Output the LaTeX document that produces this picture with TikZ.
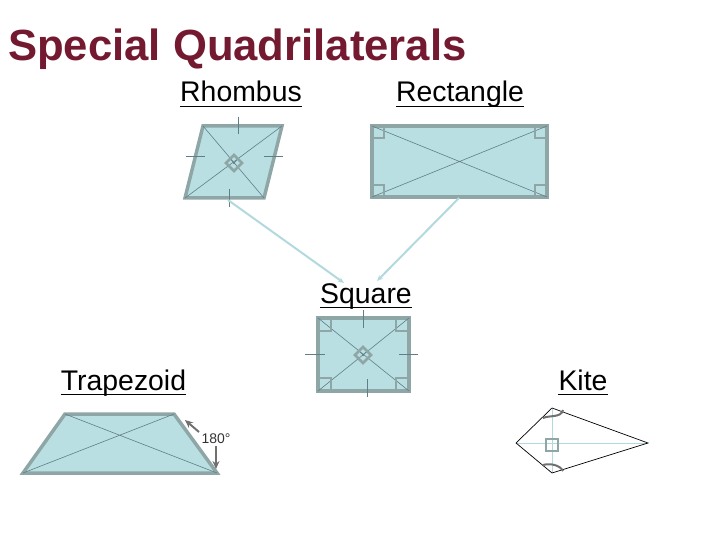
\documentclass[tikz,border=0pt]{standalone}
\usepackage{fontspec}
\setmainfont{Liberation Sans}
\usetikzlibrary{arrows.meta,calc}
\definecolor{titlec}{HTML}{741A30}
\definecolor{qfill}{HTML}{B9DFE3}
\definecolor{qedge}{HTML}{8FA6A6}
\definecolor{diagc}{HTML}{5F7F85}
\definecolor{connc}{HTML}{B2D9DE}
\definecolor{arrc}{HTML}{707070}
\tikzset{
  quad/.style={fill=qfill,draw=qedge,line width=3.5bp,line join=miter},
  diagl/.style={draw=diagc,line width=0.6bp},
  tickl/.style={draw=diagc,line width=0.8bp},
  rmark/.style={draw=qedge,line width=2.8bp},
  lbl/.style={inner sep=0pt,anchor=base,font=\fontsize{28.5}{30}\selectfont},
  conn/.style={draw=connc,line width=2bp,-{Stealth[length=6bp,width=5bp]}},
  angarr/.style={draw=arrc,line width=2bp,-{Stealth[length=8bp,width=7bp]}},
  kitel/.style={draw=black,line width=0.7bp},
  kdiag/.style={draw=connc,line width=1bp},
}
\begin{document}
\begin{tikzpicture}[x=1bp,y=-1bp]
\useasboundingbox (0,0) rectangle (720,540);
% title
\node[inner sep=0pt,anchor=base west,text=titlec,font=\fontsize{43.8}{46}\selectfont\bfseries] (title) at (8,61) {Special Quadrilaterals};
% labels
\node[lbl] (lrh) at (241,102) {Rhombus};
\node[lbl] (lre) at (460,102) {Rectangle};
\node[lbl] (lsq) at (366,303) {Square};
\node[lbl] (ltr) at (123.5,390) {Trapezoid};
\node[lbl] (lki) at (583,390) {Kite};
\foreach \n in {lrh,lre,lsq,ltr,lki}
  \draw[line width=1.8bp] ([yshift=-4.5bp]\n.base west) -- ([yshift=-4.5bp]\n.base east);
% rhombus
\coordinate (rh1) at (203,126);
\coordinate (rh2) at (282,126);
\coordinate (rh3) at (264,198);
\coordinate (rh4) at (185,198);
\draw[quad] (rh1)--(rh2)--(rh3)--(rh4)--cycle;
\draw[diagl] (rh1)--(rh3) (rh2)--(rh4);
\draw[tickl] (238,117)--(238,134) (229,189)--(229,207) (186,156)--(205,156) (264,156)--(283,156);
\coordinate (rhc) at (234,163);
\draw[rmark] ($(rhc)+(0,-8)$)--($(rhc)+(8,0)$)--($(rhc)+(0,8)$)--($(rhc)+(-8,0)$)--cycle;
\draw[diagl] ($(rhc)+(-3,-3)$)--($(rhc)+(1,1)$) ($(rhc)+(3,-3)$)--($(rhc)+(-1,1)$);
% rectangle
\coordinate (re1) at (372,126);
\coordinate (re2) at (547,126);
\coordinate (re3) at (547,197);
\coordinate (re4) at (372,197);
\draw[quad] (re1)--(re2)--(re3)--(re4)--cycle;
\draw[diagl] (re1)--(re3) (re2)--(re4);
\draw[rmark] (372,138)--(384,138)--(384,126) (547,138)--(535,138)--(535,126)
  (372,185)--(384,185)--(384,197) (547,185)--(535,185)--(535,197);
% square
\coordinate (sq1) at (318,318);
\coordinate (sq2) at (409,318);
\coordinate (sq3) at (409,391);
\coordinate (sq4) at (318,391);
\draw[quad] (sq1)--(sq2)--(sq3)--(sq4)--cycle;
\draw[diagl] (sq1)--(sq3) (sq2)--(sq4);
\draw[rmark] (318,331)--(331,331)--(331,318) (409,331)--(396,331)--(396,318)
  (318,378)--(331,378)--(331,391) (409,378)--(396,378)--(396,391);
\draw[tickl] (363,310)--(363,328) (367,379)--(367,397) (305,354)--(325,354) (399,354)--(418,354);
\coordinate (sqc) at (363,355);
\draw[rmark] ($(sqc)+(0,-8)$)--($(sqc)+(8,0)$)--($(sqc)+(0,8)$)--($(sqc)+(-8,0)$)--cycle;
\draw[diagl] ($(sqc)+(-3,-3)$)--($(sqc)+(1,1)$) ($(sqc)+(3,-3)$)--($(sqc)+(-1,1)$);
% connectors
\coordinate (c1s) at (228,200);
\coordinate (c1e) at (344,283);
\coordinate (c2s) at (459,198);
\coordinate (c2e) at (377,281);
\draw[conn] (c1s) -- (c1e);
\draw[conn] (c2s) -- (c2e);
% trapezoid
\coordinate (tr1) at (65,414);
\coordinate (tr2) at (174,414);
\coordinate (tr3) at (217,473);
\coordinate (tr4) at (23,473);
\draw[quad] (tr1)--(tr2)--(tr3)--(tr4)--cycle;
\draw[diagl] (tr1)--(tr3) (tr2)--(tr4);
\node[inner sep=0pt,font=\fontsize{14}{16}\selectfont,text=black!80] (ang) at (216,439) {180°};
\coordinate (a1s) at (199,432);
\coordinate (a1e) at (185,420);
\coordinate (a2s) at (216,446);
\coordinate (a2e) at (216,469);
\draw[angarr] (a1s) -- (a1e);
\draw[angarr] (a2s) -- (a2e);
% kite
\coordinate (k1) at (516,443);
\coordinate (k2) at (552,408);
\coordinate (k3) at (648,443);
\coordinate (k4) at (552,473);
\draw[kdiag] (k1)--(k3) (k2)--(k4);
\draw[kitel] (k1)--(k2)--(k3)--(k4)--cycle;
\draw[draw=qedge,line width=2.5bp] (546,439) rectangle (558,451);
\draw[draw=arrc,line width=2bp] (543,418) .. controls (550,415) and (561,418) .. (563,410);
\draw[draw=arrc,line width=2bp] (543,465) .. controls (550,463) and (560,465) .. (563,471);
\end{tikzpicture}
\end{document}
